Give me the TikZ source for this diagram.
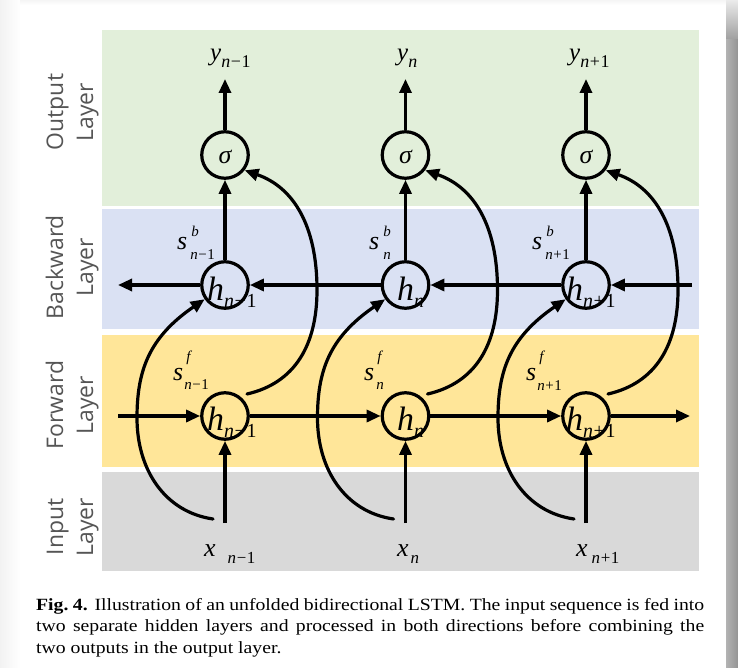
\documentclass[tikz,border=0pt]{standalone}
\usepackage{fontspec}
\setmainfont{Liberation Serif}
\newfontfamily\capfont[FakeStretch=1.15]{Liberation Serif}
\newfontfamily\layfont{Open Sans}
\usetikzlibrary{arrows.meta}

% font size shortcut
\newcommand\fs[1]{\fontsize{#1}{#1}\selectfont}
% index texts n-1 and n+1
\newcommand\nmo{\textit{n}\kern0.6bp−\kern0.6bp1}
\newcommand\npo{\textit{n}\kern0.6bp+\kern0.6bp1}
\newcommand\nn{\textit{n}}
% hidden state h with index
\newcommand\hlab[1]{{\fs{34}\itshape h}\raisebox{-7bp}{\fs{20}#1}}
% output y with index
\newcommand\ylab[1]{{\fs{25}\itshape y}\raisebox{-7bp}{\fs{18}#1}}
% input x with index and gap
\newcommand\xlab[2]{{\fs{26}\itshape x}\kern#2\raisebox{-7bp}{\fs{17}#1}}
% state s: sup, sub, sup kern, sup raise, sub kern, sub drop
\newcommand\slab[6]{{\fs{26}\itshape s}\rlap{\kern#3\raisebox{#4}{\fs{15}\itshape #1}}\kern#5\raisebox{-#6}{\fs{15}#2}}

\definecolor{outbg}{HTML}{E2EFDA}
\definecolor{bwdbg}{HTML}{DAE1F3}
\definecolor{fwdbg}{HTML}{FFE699}
\definecolor{inbg}{HTML}{D9D9D9}
\definecolor{laytext}{HTML}{555555}

\tikzset{
  unit node/.style={circle, draw, line width=3.2bp, minimum size=46.5bp, inner sep=0pt},
  conn/.style={line width=3.2bp, -{Triangle[length=14bp,width=12bp]}},
  skip conn/.style={conn, line cap=round},
  layer name/.style={rotate=90, anchor=base, inner sep=0pt, text=laytext,
    font=\layfont\fs{23}},
  mathlbl/.style={anchor=base west, inner sep=0pt},
}

\begin{document}
\begin{tikzpicture}[x=1bp, y=-1bp]
\useasboundingbox (0,0) rectangle (738,668);

% page and its shadow
\fill[white] (0,0) rectangle (738,668);
\shade[left color=black!5, right color=white] (0,0) rectangle (20,668);
\shade[top color=black!4, bottom color=white] (20,0) rectangle (726,5);
\shade[top color=black!8, bottom color=black!38] (726,0) rectangle (738,40);
\shade[left color=black!30, right color=black!42] (726,40) rectangle (738,668);

% layer bands
\fill[outbg] (102,30) rectangle (699,206);
\fill[bwdbg] (102,209) rectangle (699,329);
\fill[fwdbg] (102,335) rectangle (699,467);
\fill[inbg]  (102,472) rectangle (699,571);

% layer names
\node[layer name] (outA) at (63,112) {Output};
\node[layer name] (outB) at (93,112) {Layer};
\node[layer name] (bwdA) at (63,267) {Backward};
\node[layer name] (bwdB) at (93,267) {Layer};
\node[layer name] (fwdA) at (63,405) {Forward};
\node[layer name] (fwdB) at (93,405) {Layer};
\node[layer name] (inA) at (63,527) {Input};
\node[layer name] (inB) at (93,527) {Layer};

% units
\foreach \i/\cx in {1/225, 2/405.5, 3/586} {
  \node[unit node] (sg\i) at (\cx,155) {};
  \node[unit node] (hb\i) at (\cx,285) {};
  \node[unit node] (hf\i) at (\cx,416) {};
  \coordinate (yt\i) at (\cx,79);
  \coordinate (xb\i) at (\cx,523);
}

% vertical flow
\foreach \i in {1,2,3} {
  \draw[conn] (sg\i.north) -- (yt\i);
  \draw[conn] (hb\i.north) -- (sg\i.south);
  \draw[conn] (xb\i) -- (hf\i.south);
}

% backward chain
\coordinate (bwdin) at (692,285);
\coordinate (bwdout) at (118,285);
\draw[conn] (bwdin) -- (hb3.east);
\draw[conn] (hb3.west) -- (hb2.east);
\draw[conn] (hb2.west) -- (hb1.east);
\draw[conn] (hb1.west) -- (bwdout);

% forward chain
\coordinate (fwdin) at (118,416);
\coordinate (fwdout) at (690,416);
\draw[conn] (fwdin) -- (hf1.west);
\draw[conn] (hf1.east) -- (hf2.west);
\draw[conn] (hf2.east) -- (hf3.west);
\draw[conn] (hf3.east) -- (fwdout);

% input to backward layer, forward layer to output
\foreach \i/\cx in {1/225, 2/405.5, 3/586} {
  \coordinate (xs\i) at (\cx-12,519);
  \coordinate (fs\i) at (\cx+22,394);
  \draw[skip conn] (xs\i) .. controls ++(-48,-7) and (\cx-88,470) .. (\cx-88,418)
        .. controls (\cx-88,372) and (\cx-77,338) .. (hb\i.215);
  \draw[skip conn] (fs\i) .. controls ++(48,-11) and (\cx+92,345) .. (\cx+92,290)
        .. controls (\cx+92,225) and (\cx+68,187) .. (sg\i.-38);
}

% texts in the units
\foreach \i/\cx in {1/225, 2/405.5, 3/586}
  \node[inner sep=0pt] (sgl\i) at (\cx,157) {\fs{26}\itshape σ};
\node[mathlbl] (hbl1) at (207,300) {\hlab{\nmo}};
\node[mathlbl] (hbl2) at (397,300) {\hlab{\nn}};
\node[mathlbl] (hbl3) at (566,300) {\hlab{\npo}};
\node[mathlbl] (hfl1) at (207,430) {\hlab{\nmo}};
\node[mathlbl] (hfl2) at (397,430) {\hlab{\nn}};
\node[mathlbl] (hfl3) at (566,430) {\hlab{\npo}};

% outputs and inputs
\node[mathlbl] (y1) at (210,61) {\ylab{\nmo}};
\node[mathlbl] (y2) at (397,61) {\ylab{\nn}};
\node[mathlbl] (y3) at (569,61) {\ylab{\npo}};
\node[mathlbl] (x1) at (204,556) {\xlab{\nmo}{12bp}};
\node[mathlbl] (x2) at (397,556) {\xlab{\nn}{2bp}};
\node[mathlbl] (x3) at (576,556) {\xlab{\npo}{4bp}};

% states
\node[mathlbl] (sb1) at (177,249) {\slab{b}{\nmo}{4bp}{13bp}{3bp}{10bp}};
\node[mathlbl] (sb2) at (369,249) {\slab{b}{\nn}{4bp}{13bp}{4bp}{10bp}};
\node[mathlbl] (sb3) at (532,249) {\slab{b}{\npo}{4bp}{13bp}{3bp}{10bp}};
\node[mathlbl] (sf1) at (173,380) {\slab{f}{\nmo}{3bp}{19bp}{1bp}{9bp}};
\node[mathlbl] (sf2) at (364,380) {\slab{f}{\nn}{3bp}{19bp}{2bp}{9bp}};
\node[mathlbl] (sf3) at (526,380) {\slab{f}{\npo}{3bp}{19bp}{1bp}{10bp}};

% caption
\node[anchor=base west, inner sep=0pt] (cap) at (36,610)
  {\parbox[t]{668bp}{\capfont\fs{17.2}\baselineskip=21.5bp
   \textbf{Fig.\ 4.}\hspace{0.4em}Illustration of an unfolded bidirectional LSTM. The input sequence is fed into\linebreak
   two separate hidden layers and processed in both directions before combining the\linebreak
   two outputs in the output layer.}};
\end{tikzpicture}
\end{document}
